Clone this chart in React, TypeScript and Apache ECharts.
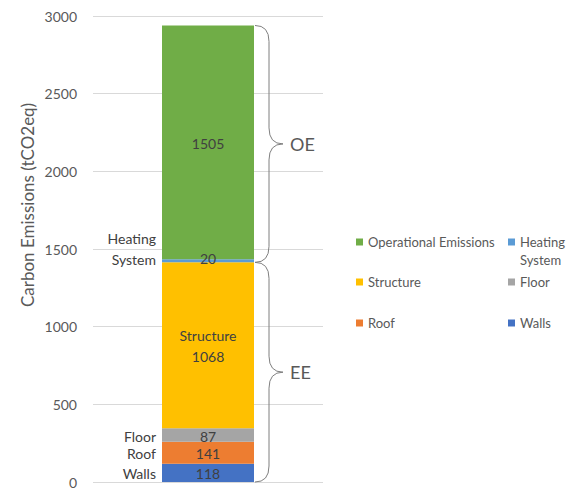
import React, { useEffect, useRef } from "react";
import * as echarts from "echarts";

// Carbon emissions by building component (tCO2eq), stacked bottom to top
const seriesNames = ["Walls", "Roof", "Floor", "Structure", "Heating System", "Operational Emissions"];
const seriesValues = [118, 141, 87, 1068, 20, 1505];
const seriesColors = ["#4472C4", "#ED7D31", "#A5A5A5", "#FFC000", "#5B9BD5", "#70AD47"];
// Text shown to the left of the bar for the small segments (empty = none)
const sideLabels = ["Walls", "Roof", "Floor", "", "Heating\nSystem", ""];
// Text shown inside each segment
const insideLabels = ["118", "141", "87", "Structure\n1068", "20", "1505"];
// Groupings marked with a curly brace: [first segment index, last segment index, label]
const groups: [number, number, string][] = [
  [0, 3, "EE"],
  [4, 5, "OE"],
];
const yTicks = { min: 0, max: 3000, interval: 500 };

const FONT = "Lato, 'Open Sans', sans-serif";
const TEXT = "#595959";

export default function App() {
  const ref = useRef<HTMLDivElement>(null);

  useEffect(() => {
    if (!ref.current) return;
    const chart = echarts.init(ref.current, undefined, { renderer: "svg" });

    // cumulative boundaries of the stack
    const bounds: number[] = [0];
    seriesValues.forEach((v, i) => bounds.push(bounds[i] + v));

    const barSeries = seriesNames.map((name, i) => ({
      name,
      type: "bar",
      stack: "total",
      barWidth: "40%",
      itemStyle: { color: seriesColors[i] },
      label: {
        show: true,
        position: "inside",
        formatter: () => insideLabels[i],
        color: "#404040",
        fontSize: 14,
        fontFamily: FONT,
        lineHeight: 21,
        offset: name === "Heating System" ? [0, -2] : [0, 1],
      },
      data: [seriesValues[i]],
    }));

    const sideData = sideLabels
      .map((t, i) => ({ t, lo: bounds[i], hi: bounds[i + 1] }))
      .filter((d) => d.t);

    const sideSeries = {
      type: "custom",
      coordinateSystem: "cartesian2d",
      silent: true,
      encode: { x: 0, y: [1, 2] },
      data: sideData.map((d) => [0, d.lo, d.hi]),
      renderItem: (params: any, api: any) => {
        const d = sideData[params.dataIndex];
        const mid = (api.value(1) + api.value(2)) / 2;
        const p = api.coord([0, mid]);
        const half = (api.size([1, 0])[0] * 0.4) / 2;
        const multi = d.t.includes("\n");
        return {
          type: "text",
          x: p[0] - half - 6,
          y: p[1] + (multi ? 9 : 1),
          style: {
            text: d.t,
            align: "right",
            verticalAlign: multi ? "bottom" : "middle",
            fill: "#404040",
            font: `14px ${FONT}`,
            lineHeight: 21,
          },
        };
      },
    };

    const braceSeries = {
      type: "custom",
      coordinateSystem: "cartesian2d",
      silent: true,
      encode: { x: 0, y: [1, 2] },
      data: groups.map((g) => [0, bounds[g[0]], bounds[g[1] + 1]]),
      renderItem: (params: any, api: any) => {
        const label = groups[params.dataIndex][2];
        const lo = api.coord([0, api.value(1)]);
        const hi = api.coord([0, api.value(2)]);
        const half = (api.size([1, 0])[0] * 0.4) / 2;
        const xa = lo[0] + half + 1;
        const xb = xa + 14;
        const xc = xa + 28;
        const y0 = hi[1];
        const y1 = lo[1];
        const ym = (y0 + y1) / 2;
        const r = 16;
        const d =
          `M${xa},${y0} Q${xb},${y0} ${xb},${y0 + r} L${xb},${ym - r} ` +
          `Q${xb},${ym} ${xc},${ym} Q${xb},${ym} ${xb},${ym + r} ` +
          `L${xb},${y1 - r} Q${xb},${y1} ${xa},${y1}`;
        return {
          type: "group",
          children: [
            {
              type: "path",
              shape: { pathData: d },
              style: { fill: "none", stroke: "#7F7F7F", lineWidth: 1 },
            },
            {
              type: "text",
              x: xc + 7,
              y: ym,
              style: {
                text: label,
                align: "left",
                verticalAlign: "middle",
                fill: TEXT,
                font: `18px ${FONT}`,
              },
            },
          ],
        };
      },
    };

    // legend: two columns, three rows
    const legendCells: { name: string; left: number; top: number }[] = [
      { name: "Operational Emissions", left: 356, top: 242 },
      { name: "Heating System", left: 508, top: 242 },
      { name: "Structure", left: 356, top: 282 },
      { name: "Floor", left: 508, top: 282 },
      { name: "Roof", left: 356, top: 323 },
      { name: "Walls", left: 508, top: 323 },
    ];
    const legends = legendCells.map((c) => {
      const multi = c.name === "Heating System";
      return {
        data: [c.name],
        left: c.left,
        top: multi ? c.top - 27 : c.top - 9,
        padding: 0,
        itemWidth: 7,
        itemHeight: 7,
        icon: "rect",
        selectedMode: false,
        // leading empty line keeps the first text line level with the icon
        formatter: multi ? " \nHeating\nSystem" : undefined,
        textStyle: {
          color: TEXT,
          fontSize: 13,
          fontFamily: FONT,
          lineHeight: 18,
        },
      };
    });

    chart.setOption({
      animation: false,
      textStyle: { fontFamily: FONT },
      grid: { left: 93, right: 256, top: 16, bottom: 6 },
      xAxis: {
        type: "category",
        data: ["Building"],
        axisLine: { show: false },
        axisTick: { show: false },
        axisLabel: { show: false },
      },
      yAxis: {
        type: "value",
        min: yTicks.min,
        max: yTicks.max,
        interval: yTicks.interval,
        axisLine: { show: false },
        axisTick: { show: false },
        axisLabel: {
          color: TEXT,
          fontSize: 14,
          fontFamily: FONT,
          margin: 16,
          formatter: (v: number) => String(v),
        },
        splitLine: { lineStyle: { color: "#D9D9D9", width: 1 } },
      },
      legend: legends,
      graphic: [
        {
          type: "text",
          x: 27,
          y: 205,
          rotation: Math.PI / 2,
          style: {
            text: "Carbon Emissions (tCO2eq)",
            align: "center",
            verticalAlign: "middle",
            fill: TEXT,
            font: `17px ${FONT}`,
          },
        },
      ],
      series: [...barSeries, sideSeries, braceSeries],
    });

    return () => chart.dispose();
  }, []);

  return (
    <div
      ref={ref}
      style={{ position: "fixed", left: 0, top: 0, width: 579, height: 489, background: "#fff" }}
    />
  );
}
